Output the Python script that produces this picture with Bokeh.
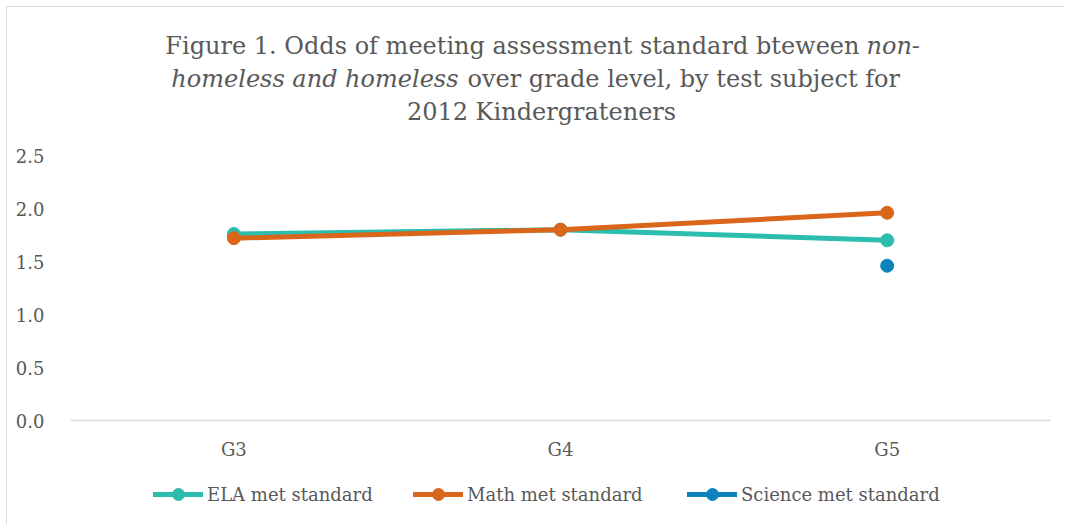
from bokeh.plotting import figure
from bokeh.layouts import column
from bokeh.models import Label, Legend, LegendItem, FixedTicker, NumeralTickFormatter, Range1d
from bokeh.embed import file_html
from bokeh.resources import INLINE

grades = ["G3", "G4", "G5"]
ela = [1.76, 1.80, 1.70]
math_vals = [1.72, 1.80, 1.96]
science = [float("nan"), float("nan"), 1.46]
y_ticks = [0.0, 0.5, 1.0, 1.5, 2.0, 2.5]
series_names = ["ELA met standard", "Math met standard", "Science met standard"]
title_line1 = ["Figure 1. Odds of meeting assessment standard bteween", "non-"]
title_line2 = ["homeless and homeless", "over grade level, by test subject for"]
title_line3 = "2012 Kindergrateners"

C_ELA = "#2dbdae"
C_MATH = "#d9661a"
C_SCI = "#0b84bd"
COLORS = [C_ELA, C_MATH, C_SCI]
TXT = "#595959"
FONT = "DejaVu Serif"
GRID = "#d9d9d9"

W = 1064
HT, HM, HL = 130, 340, 54          # title strip, chart, legend strip
FL = 70                            # left edge of the plotting frame (shared by the column)

def border_style(top):
    imgs = ["linear-gradient(#d9d9d9, #d9d9d9)"]
    sizes = ["1px 100%"]
    pos = ["6px 6px" if top else "6px 0px"]
    if top:
        imgs.append("linear-gradient(#d9d9d9, #d9d9d9)")
        sizes.append("100% 1px")
        pos.append("6px 6px")
    return {"background-color": "white", "background-image": ", ".join(imgs),
            "background-size": ", ".join(sizes), "background-position": ", ".join(pos),
            "background-repeat": "no-repeat"}

def blank(h, xr, yr):
    f = figure(width=W, height=h, x_range=xr, y_range=yr,
               x_axis_type=None, y_axis_type=None, output_backend="svg",
               toolbar_location=None, title=None, min_border=0)
    f.outline_line_color = None
    f.xgrid.visible = False
    f.ygrid.visible = False
    f.background_fill_alpha = 0
    f.border_fill_alpha = 0
    f.styles = border_style(False)
    return f

# ---- title strip ----
pt = blank(HT, Range1d(0, 1), Range1d(0, 1))
pt.styles = border_style(True)

def add_label(text, x, baseline, align, style):
    pt.add_layout(Label(x=x - FL, y=HT - baseline, x_units="screen", y_units="screen",
                        text=text, text_align=align, text_baseline="alphabetic",
                        text_font=FONT, text_font_size="24px", text_color=TXT,
                        text_font_style=style))

add_label(title_line1[0], 859, 45, "right", "normal")
add_label(title_line1[1], 866, 45, "left", "italic")
add_label(title_line2[0], 458, 78, "right", "italic")
add_label(title_line2[1], 467, 78, "left", "normal")
add_label(title_line3, 541, 111, "center", "normal")

# ---- chart ----
p = figure(x_range=grades, y_range=Range1d(0, 2.5), width=W, height=HM,
           output_backend="svg", toolbar_location=None, title=None,
           min_border_left=FL, min_border_right=W - 1050,
           min_border_top=155 - HT, min_border_bottom=HT + HM - 420)
p.styles = border_style(False)
p.outline_line_color = None
p.xgrid.grid_line_color = None
p.ygrid.grid_line_color = None
p.background_fill_alpha = 0
p.border_fill_alpha = 0

p.yaxis.ticker = FixedTicker(ticks=y_ticks)
p.yaxis.formatter = NumeralTickFormatter(format="0.0")
p.yaxis.axis_line_color = None
p.yaxis.major_tick_line_color = None
p.yaxis.minor_tick_line_color = None
p.yaxis.major_label_standoff = 20
p.yaxis.major_label_text_font = FONT
p.yaxis.major_label_text_font_size = "18px"
p.yaxis.major_label_text_color = TXT

p.xaxis.axis_line_color = GRID
p.xaxis.axis_line_width = 1.5
p.xaxis.major_tick_line_color = None
p.xaxis.minor_tick_line_color = None
p.xaxis.major_label_standoff = 12
p.xaxis.major_label_text_font = FONT
p.xaxis.major_label_text_font_size = "18px"
p.xaxis.major_label_text_color = TXT

for vals, col in zip([ela, math_vals, science], COLORS):
    p.line(grades, vals, line_color=col, line_width=5, line_cap="round")
    p.scatter(grades, vals, size=13, fill_color=col, line_color=col)

# ---- legend strip (series re-drawn out of view, used only as legend glyphs) ----
pl = blank(HL, grades, Range1d(100, 101))

legend_x = [153, 413, 687]
for name, vals, col, lx in zip(series_names, [ela, math_vals, science], COLORS, legend_x):
    ln = pl.line(grades, vals, line_color=col, line_width=5, line_cap="round")
    sc = pl.scatter(grades, vals, size=13, fill_color=col, line_color=col)
    lg = Legend(items=[LegendItem(label=name, renderers=[ln, sc])], location=(lx - FL, 15),
                orientation="horizontal", padding=0, margin=0, spacing=0,
                glyph_width=50, glyph_height=30, label_height=30, label_standoff=4,
                border_line_color=None, background_fill_alpha=0,
                label_text_font=FONT, label_text_font_size="18px", label_text_color=TXT)
    pl.add_layout(lg, "center")

layout = column(pt, p, pl, spacing=0)
open("out.html", "w").write(file_html(layout, INLINE))
